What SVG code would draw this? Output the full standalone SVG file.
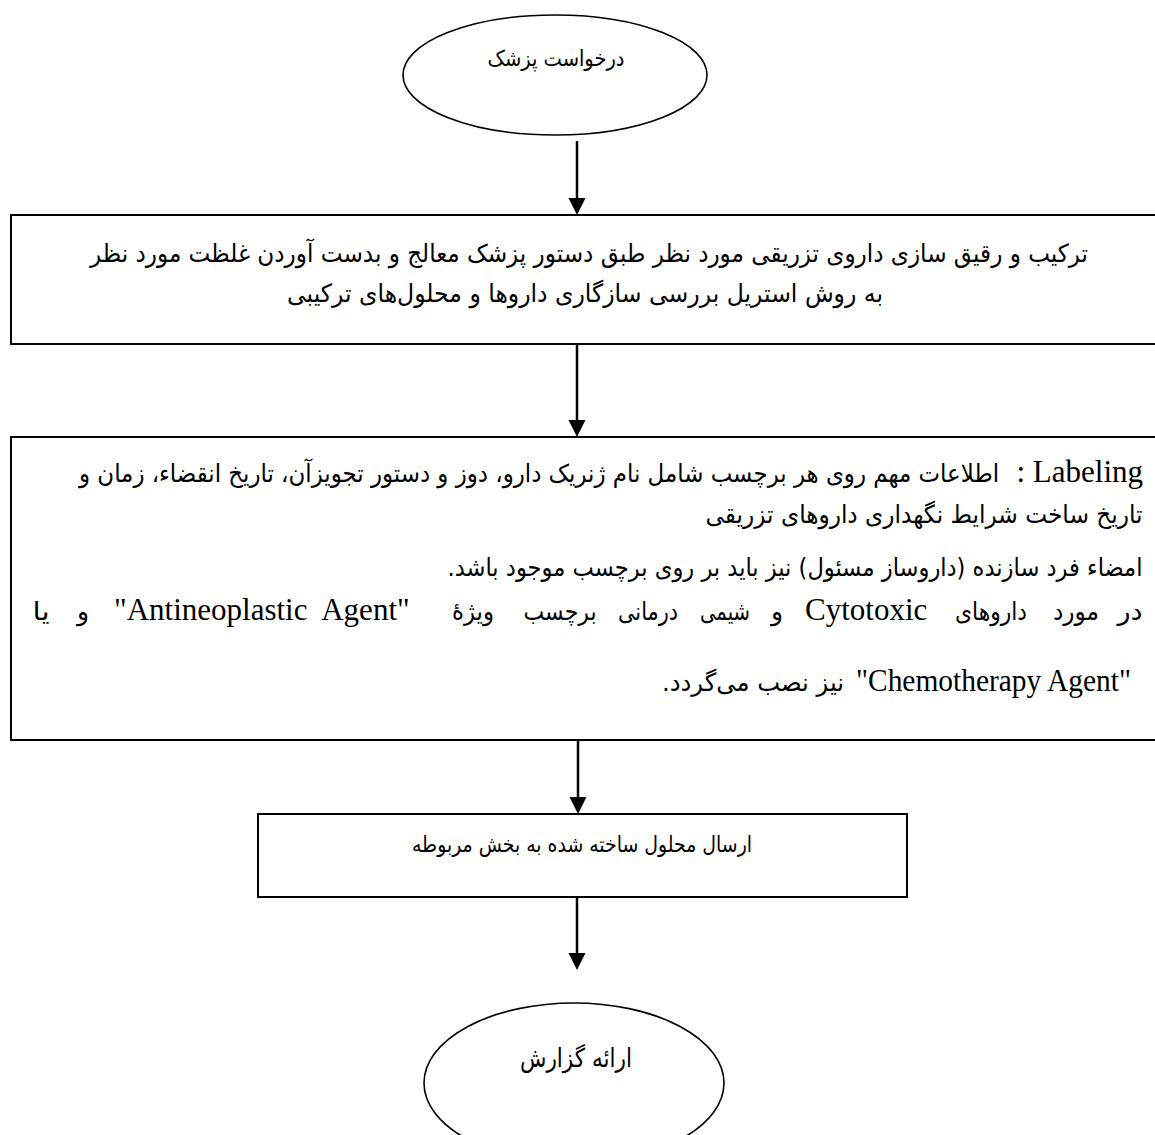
<svg xmlns="http://www.w3.org/2000/svg" width="1155" height="1135" viewBox="0 0 1155 1135">
<style>
.box{fill:#fff;stroke:#000;stroke-width:2}
.ell{fill:#fff;stroke:#000;stroke-width:1.6}
.fa{font-family:"DejaVu Sans","Noto Sans",sans-serif;fill:#000;direction:rtl;text-anchor:middle}
.en{font-family:"Liberation Serif","Times New Roman",serif;font-size:31px;fill:#000}
.conn line{stroke:#000;stroke-width:2.5}
</style>
<defs>
<marker id="ah" markerUnits="userSpaceOnUse" markerWidth="18" markerHeight="18" refX="0" refY="8.5" orient="auto">
<path d="M0,0 L17,8.5 L0,17 z" fill="#000"/>
</marker>
</defs>
<rect width="1155" height="1135" fill="#fff"/>
<g id="connectors" class="conn">
<line x1="577" y1="141" x2="577" y2="198" marker-end="url(#ah)"/>
<line x1="577" y1="344" x2="577" y2="420" marker-end="url(#ah)"/>
<line x1="578" y1="740" x2="578" y2="797" marker-end="url(#ah)"/>
<line x1="577" y1="897" x2="577" y2="953" marker-end="url(#ah)"/>
</g>
<g id="start">
<ellipse class="ell" cx="555" cy="75" rx="152" ry="60"/>
<text class="fa" x="556" y="66" font-size="22" textLength="137" lengthAdjust="spacingAndGlyphs">درخواست پزشک</text>
</g>
<g id="compound">
<rect class="box" x="11" y="215" width="1170" height="129"/>
<text class="fa" x="589" y="262" font-size="25" textLength="998" lengthAdjust="spacingAndGlyphs">ترکیب و رقیق سازی داروی تزریقی مورد نظر طبق دستور پزشک معالج و بدست آوردن غلظت مورد نظر</text>
<text class="fa" x="585" y="302" font-size="25" textLength="596" lengthAdjust="spacingAndGlyphs">به روش استریل بررسی سازگاری داروها و محلول‌های ترکیبی</text>
</g>
<g id="labeling">
<rect class="box" x="11" y="437" width="1170" height="303"/>
<text class="en" x="1143" y="482" text-anchor="end" xml:space="preserve">: Labeling</text>
<text class="fa" x="539" y="482" font-size="25" textLength="920" lengthAdjust="spacingAndGlyphs">اطلاعات مهم روی هر برچسب شامل نام ژنریک دارو، دوز و دستور تجویزآن، تاریخ انقضاء، زمان و</text>
<text class="fa" x="924" y="523" font-size="25" textLength="437" lengthAdjust="spacingAndGlyphs">تاریخ ساخت شرایط نگهداری داروهای تزریقی</text>
<text class="fa" x="795" y="576" font-size="25" textLength="695" lengthAdjust="spacingAndGlyphs">امضاء فرد سازنده (داروساز مسئول) نیز باید بر روی برچسب موجود باشد.</text>
<text class="fa" x="1130" y="620" font-size="25" textLength="25" lengthAdjust="spacingAndGlyphs">در</text>
<text class="fa" x="1076" y="620" font-size="25" textLength="46" lengthAdjust="spacingAndGlyphs">مورد</text>
<text class="fa" x="991" y="620" font-size="25" textLength="72" lengthAdjust="spacingAndGlyphs">داروهای</text>
<text class="en" x="805" y="620">Cytotoxic</text>
<text class="fa" x="777" y="620" font-size="25">و</text>
<text class="fa" x="725" y="620" font-size="25" textLength="50" lengthAdjust="spacingAndGlyphs">شیمی</text>
<text class="fa" x="648" y="620" font-size="25" textLength="60" lengthAdjust="spacingAndGlyphs">درمانی</text>
<text class="fa" x="560" y="620" font-size="25" textLength="73" lengthAdjust="spacingAndGlyphs">برچسب</text>
<text class="fa" x="473" y="620" font-size="25" textLength="42" lengthAdjust="spacingAndGlyphs">ویژۀ</text>
<text class="en" x="114" y="620" xml:space="preserve">"Antineoplastic  Agent"</text>
<text class="fa" x="83" y="620" font-size="25">و</text>
<text class="fa" x="41" y="620" font-size="25" textLength="17" lengthAdjust="spacingAndGlyphs">یا</text>
<text class="en" x="856" y="691" textLength="275" lengthAdjust="spacingAndGlyphs">"Chemotherapy Agent"</text>
<text class="fa" x="753" y="691" font-size="25" textLength="182" lengthAdjust="spacingAndGlyphs">نیز نصب می‌گردد.</text>
</g>
<g id="send">
<rect class="box" x="258" y="814" width="649" height="83"/>
<text class="fa" x="582" y="852" font-size="22" textLength="340" lengthAdjust="spacingAndGlyphs">ارسال محلول ساخته شده به بخش مربوطه</text>
</g>
<g id="end">
<ellipse class="ell" cx="574" cy="1083" rx="150" ry="80"/>
<text class="fa" x="576" y="1067" font-size="26" textLength="112" lengthAdjust="spacingAndGlyphs">ارائه گزارش</text>
</g>
</svg>
